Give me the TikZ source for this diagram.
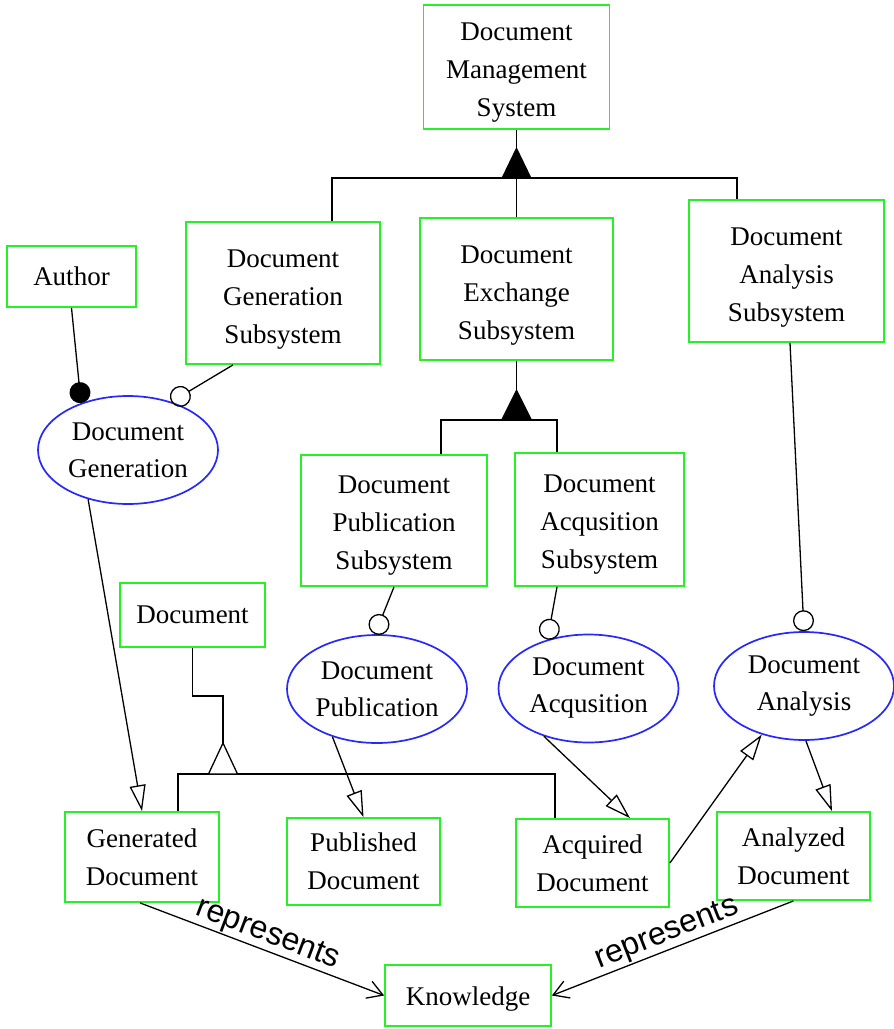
\documentclass[tikz,border=0pt]{standalone}
\usepackage{fontspec}
\setmainfont{Liberation Serif}
\newfontfamily\labelfont{Liberation Sans}
\usetikzlibrary{shapes.geometric,arrows.meta}
\definecolor{boxgreen}{RGB}{40,240,40}
\definecolor{ucblue}{RGB}{40,40,250}
% invisible strut that makes the first text line taller, lowering the text block
\newcommand{\dropline}[1][28pt]{\rule{0pt}{#1}}
\begin{document}
\begin{tikzpicture}[x=1pt,y=-1pt,
  box/.style={draw=boxgreen, line width=1.8pt, align=center, inner sep=0pt,
              font=\fontsize{27}{38}\selectfont},
  usecase/.style={ellipse, draw=ucblue, line width=1.7pt, inner sep=0pt,
              minimum width=180pt, minimum height=108pt, align=center,
              font=\fontsize{27}{37}\selectfont},
  conn/.style={line width=1.3pt, black},
  opentri/.style={conn, -{Triangle[open, length=26pt, width=16pt]}},
  dotend/.style={conn, -{Circle[length=21pt]}},
  ringend/.style={conn, -{Circle[open, length=21pt]}},
  reparrow/.style={conn, -{Straight Barb[length=15pt, width=18pt]}},
  replabel/.style={sloped, above, inner sep=1pt, font=\labelfont\fontsize{32}{34}\selectfont}
]
\path[use as bounding box, fill=white] (0,0) rectangle (894,1029);

% ---- boxes ----
\node[box, minimum width=186pt, minimum height=124pt] (dms)    at (516.5,67)  {\dropline Document\\Management\\System};
\node[box, minimum width=129pt, minimum height=61pt]  (author) at (71.5,276.5) {Author};
\node[box, minimum width=194pt, minimum height=142pt] (dgs)    at (283,293)   {\dropline[30pt]Document\\Generation\\Subsystem};
\node[box, minimum width=193pt, minimum height=142pt] (des)    at (516.5,289) {\dropline[30pt]Document\\Exchange\\Subsystem};
\node[box, minimum width=195pt, minimum height=142pt] (das)    at (786.5,271) {\dropline[30pt]Document\\Analysis\\Subsystem};
\node[box, minimum width=186pt, minimum height=131pt] (dps)    at (394,520.5) {\dropline Document\\Publication\\Subsystem};
\node[box, minimum width=169pt, minimum height=133pt] (daqs)   at (599.5,519.5) {\dropline Document\\Acqusition\\Subsystem};
\node[box, minimum width=145pt, minimum height=64pt]  (doc)    at (192.5,615) {Document};
\node[box, minimum width=154pt, minimum height=90pt]  (gdoc)   at (142,857)   {Generated\\Document};
\node[box, minimum width=153pt, minimum height=87pt]  (pdoc)   at (363.5,861.5) {Published\\Document};
\node[box, minimum width=153pt, minimum height=88pt]  (adoc)   at (592.5,863) {Acquired\\Document};
\node[box, minimum width=153pt, minimum height=88pt]  (anadoc) at (793.5,856) {Analyzed\\Document};
\node[box, minimum width=166pt, minimum height=61pt]  (know)   at (468,995.5) {\dropline[26pt]Knowledge};

% ---- use cases ----
\node[usecase] (ugen) at (128,450)     {Document\\Generation};
\node[usecase] (upub) at (377,689)     {Document\\Publication};
\node[usecase] (uacq) at (588.5,688.5) {Document\\Acqusition};
\node[usecase] (uana) at (804,686)     {Document\\Analysis};

% ---- composition: management system ----
\coordinate (g1) at (516.5,178);
\draw[conn] (dms.south) -- (g1);
\fill (g1) ++(-15,0) -- ++(15,-31) -- ++(15,31) -- cycle;
\draw[conn] ([xshift=49pt]dgs.north) |- (g1) -| ([xshift=-49.5pt]das.north);
\draw[conn] (g1) -- (des.north);

% ---- composition: exchange subsystem ----
\coordinate (g2) at (516.5,420);
\draw[conn] (des.south) -- (g2);
\fill (g2) ++(-15.5,0) -- ++(15.5,-31) -- ++(15.5,31) -- cycle;
\draw[conn] ([xshift=47pt]dps.north) |- (g2) -| ([xshift=-42.5pt]daqs.north);

% ---- generalization of documents ----
\coordinate (g3) at (223,774);
\draw[conn] (doc.south) -- ++(0,48) -| ([yshift=31pt]g3);
\draw[conn] ([xshift=36pt]gdoc.north) |- (g3) -| ([xshift=-37.5pt]adoc.north);
\draw[conn, fill=white] (g3) ++(-14.5,0) -- ++(14.5,-31) -- ++(14.5,31) -- cycle;

% ---- actors and subsystems attached to use cases ----
\draw[dotend]  (author.south) -- (ugen.135);
\draw[ringend] ([xshift=-50pt]dgs.south) -- (ugen.48);
\draw[ringend] (dps.south) -- (upub.92);
\draw[ringend] ([xshift=-42.5pt]daqs.south) -- (uacq.130);
\draw[ringend] ([xshift=3.5pt]das.south) -- (uana.north);

% ---- use case products ----
\draw[opentri] (ugen.231) -- (gdoc.north);
\draw[opentri] (upub.227) -- (pdoc.north);
\draw[opentri] (uacq.227) -- ([xshift=37.5pt]adoc.north);
\draw[opentri] (adoc.east) -- (uana.229);
\draw[opentri] (uana.272) -- ([xshift=38.5pt]anadoc.north);

% ---- knowledge ----
\draw[reparrow] ([xshift=-2pt]gdoc.south) -- node[replabel] {represents} (know.west);
\draw[reparrow] (anadoc.south) -- node[replabel] {represents} (know.east);
\end{tikzpicture}
\end{document}
